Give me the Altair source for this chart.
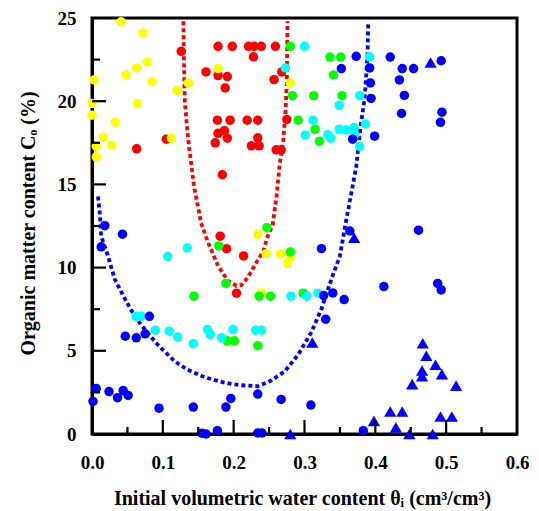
import altair as alt
import pandas as pd

# ---- data ----
red_x = [0.126, 0.178, 0.198, 0.221, 0.229, 0.239, 0.259, 0.228, 0.161, 0.178, 0.191, 0.188, 0.257, 0.268,
         0.177, 0.195, 0.219, 0.234, 0.275, 0.178, 0.187, 0.191, 0.174, 0.234, 0.225, 0.236, 0.260, 0.267,
         0.105, 0.063, 0.184, 0.181, 0.190, 0.214, 0.204]
red_y = [23.0, 23.3, 23.3, 23.3, 23.3, 23.3, 23.3, 22.67, 21.76, 21.54, 21.48, 20.8, 21.3, 21.76,
         18.86, 18.86, 18.86, 18.86, 18.9, 18.07, 18.23, 17.78, 17.5, 17.8, 17.32, 17.32, 17.08, 17.08,
         17.72, 17.14, 15.58, 11.89, 11.14, 10.7, 8.46]

yellow_x = [0.041, 0.072, 0.078, 0.063, 0.048, 0.085, 0.003, 0.120, 0.136, 0.178, 0.0, 0.0, 0.064, 0.033,
            0.016, 0.028, 0.006, 0.006, 0.112, 0.280, 0.234, 0.246, 0.266, 0.280, 0.276, 0.239]
yellow_y = [24.77, 24.1, 22.35, 22.0, 21.58, 21.17, 21.28, 20.65, 21.1, 21.96, 19.86, 19.16, 19.86, 18.73,
            17.84, 17.36, 17.3, 16.65, 17.78, 21.1, 12.0, 10.84, 10.82, 10.6, 10.26, 8.48]

green_x = [0.280, 0.336, 0.351, 0.341, 0.283, 0.313, 0.353, 0.291, 0.315, 0.321, 0.179, 0.189, 0.144,
           0.191, 0.201, 0.234, 0.247, 0.280, 0.236, 0.252, 0.298]
green_y = [23.3, 22.65, 22.65, 21.58, 20.33, 20.33, 20.33, 18.86, 18.31, 17.6, 11.3, 9.05, 8.28,
           5.6, 5.6, 5.31, 12.4, 10.94, 8.28, 8.28, 8.46]

cyan_x = [0.300, 0.273, 0.392, 0.378, 0.349, 0.312, 0.301, 0.333, 0.337, 0.349, 0.359, 0.370, 0.386,
          0.378, 0.371, 0.1345, 0.107, 0.0625, 0.0696, 0.0894, 0.109, 0.121, 0.143, 0.163, 0.167, 0.183,
          0.199, 0.281, 0.303, 0.319, 0.231, 0.239]
cyan_y = [23.3, 22.0, 22.67, 20.33, 19.76, 18.86, 17.97, 17.99, 17.78, 18.31, 18.27, 18.43, 18.63,
          17.28, 18.0, 11.18, 10.66, 7.07, 7.07, 6.24, 6.18, 5.83, 5.43, 6.28, 5.98, 5.79,
          6.28, 8.28, 8.28, 8.46, 6.24, 6.24]

blue_x = [0.421, 0.438, 0.454, 0.493, 0.434, 0.441, 0.437, 0.494, 0.492, 0.399, 0.373, 0.352, 0.392,
          0.393, 0.394, 0.368, 0.018, 0.043, 0.013, 0.081, 0.047, 0.0625, 0.075, 0.006, 0.024, 0.044,
          0.051, 0.036, 0.0014, 0.0946, 0.143, 0.189, 0.196, 0.155, 0.161, 0.177, 0.234, 0.267, 0.234,
          0.240, 0.324, 0.364, 0.327, 0.340, 0.356, 0.330, 0.383, 0.461, 0.412, 0.488, 0.493, 0.309]
blue_y = [22.65, 21.96, 21.96, 22.43, 21.28, 20.35, 19.26, 19.34, 18.73, 17.9, 22.7, 21.96, 22.0,
          21.1, 20.17, 17.72, 12.52, 12.01, 11.25, 7.07, 5.88, 5.78, 6.02, 2.73, 2.55, 2.61,
          2.32, 2.18, 1.96, 1.55, 1.62, 1.62, 2.14, 0.05, 0.0, 0.2, 2.4, 2.08, 0.06,
          0.06, 11.14, 12.2, 8.32, 8.48, 8.08, 6.9, 0.2, 12.25, 8.86, 9.05, 8.66, 1.74]

tri_x = [0.478, 0.370, 0.311, 0.280, 0.398, 0.467, 0.472, 0.485, 0.466, 0.466, 0.494, 0.452, 0.514,
         0.421, 0.438, 0.429, 0.492, 0.508, 0.448, 0.481]
tri_y = [22.33, 11.79, 5.5, 0.0, 0.79, 5.45, 4.7, 4.16, 3.82, 3.47, 3.6, 3.0, 2.91,
         1.35, 1.35, 0.4, 1.05, 1.05, 0.0, 0.0]

red_curve_x = [0.129, 0.130, 0.131, 0.134, 0.137, 0.144, 0.154, 0.164, 0.178, 0.192, 0.204, 0.211,
               0.220, 0.232, 0.242, 0.248, 0.255, 0.261, 0.265, 0.270, 0.273, 0.275, 0.276]
red_curve_y = [24.8, 22.0, 20.0, 18.5, 17.25, 14.9, 12.68, 11.49, 10.1, 9.2, 8.9, 8.95,
               9.41, 10.3, 11.0, 11.89, 12.55, 14.46, 16.25, 17.63, 19.22, 21.2, 24.8]

blue_curve_x = [0.0085, 0.011, 0.013, 0.0226, 0.032, 0.044, 0.0555, 0.0696, 0.093, 0.117, 0.135, 0.159,
                0.183, 0.197, 0.211, 0.234, 0.253, 0.272, 0.291, 0.310, 0.324, 0.338, 0.350, 0.357,
                0.366, 0.373, 0.379, 0.385, 0.389, 0.390]
blue_curve_y = [14.27, 13.28, 11.89, 10.7, 9.31, 8.32, 7.43, 6.54, 5.35, 4.36, 3.86, 3.41,
                3.13, 3.01, 2.93, 2.87, 3.21, 3.76, 4.76, 6.14, 7.53, 9.31, 10.7, 12.4,
                14.46, 16.05, 18.43, 20.21, 22.79, 24.77]

x_labels = [0.0, 0.1, 0.2, 0.3, 0.4, 0.5, 0.6]
y_labels = [0, 5, 10, 15, 20, 25]
x_major_ticks = [0.1, 0.2, 0.3, 0.4, 0.5]
x_minor_ticks = [0.05, 0.15, 0.25, 0.35, 0.45, 0.55]
y_major_ticks = [5, 10, 15, 20]
y_minor_ticks = [2.5, 7.5, 12.5, 17.5, 22.5]

# ---- build tables ----
series_order = ["red", "yellow", "green", "cyan", "blue"]
colors = {"red": "#ff0000", "yellow": "#ffff00", "green": "#00ff00", "cyan": "#00ffff", "blue": "#0000ff"}
frames = []
for name, xs_, ys_ in [("red", red_x, red_y), ("yellow", yellow_x, yellow_y), ("green", green_x, green_y),
                       ("cyan", cyan_x, cyan_y), ("blue", blue_x, blue_y)]:
    frames.append(pd.DataFrame({"x": xs_, "y": ys_, "s": name}))
circles = pd.concat(frames, ignore_index=True)
tris = pd.DataFrame({"x": tri_x, "y": tri_y})
rc = pd.DataFrame({"x": red_curve_x, "y": red_curve_y, "o": range(len(red_curve_x))})
bc = pd.DataFrame({"x": blue_curve_x, "y": blue_curve_y, "o": range(len(blue_curve_x))})

W, H = 425, 416
FONT = "Liberation Serif"
xs = alt.Scale(domain=[0, 0.6], nice=False, zero=False)
ys = alt.Scale(domain=[0, 25], nice=False, zero=False)

xaxis = alt.Axis(values=x_labels, format=".1f", title="Initial volumetric water content θᵢ (cm³/cm³)",
                 grid=False, ticks=False, tickSize=0, labelPadding=19, labelFlush=False, labelOverlap=False,
                 domainColor="black", domainWidth=3,
                 titleX=210, titleY=70, titleBaseline="alphabetic", titleAlign="center", titleAngle=0)
yaxis = alt.Axis(values=y_labels, format="d", title="Organic matter content Cₒ (%)",
                 grid=False, ticks=False, tickSize=0, labelPadding=16, labelFlush=False, labelOverlap=False,
                 domainColor="black", domainWidth=3,
                 titleX=-58, titleY=205, titleBaseline="alphabetic", titleAlign="center", titleAngle=-90)

red_line = alt.Chart(rc).mark_line(color="#ff0000", strokeWidth=3.8, strokeDash=[4, 3]).encode(
    x=alt.X("x:Q", scale=xs, axis=xaxis), y=alt.Y("y:Q", scale=ys, axis=yaxis), order="o:Q")
blue_line = alt.Chart(bc).mark_line(color="#0000ff", strokeWidth=3.8, strokeDash=[4, 3]).encode(
    x=alt.X("x:Q", scale=xs), y=alt.Y("y:Q", scale=ys), order="o:Q")

pts = alt.Chart(circles).mark_point(shape="circle", filled=True, size=90, opacity=1).encode(
    x=alt.X("x:Q", scale=xs), y=alt.Y("y:Q", scale=ys),
    color=alt.Color("s:N", scale=alt.Scale(domain=series_order, range=[colors[s] for s in series_order]),
                    legend=None))
tri = alt.Chart(tris).mark_point(shape="triangle-up", filled=True, size=150, opacity=1, color="#0000ff").encode(
    x=alt.X("x:Q", scale=xs), y=alt.Y("y:Q", scale=ys))

def xticks(vals, length):
    return alt.Chart(pd.DataFrame({"x": vals})).mark_rule(color="black", strokeWidth=2.2).encode(
        x=alt.X("x:Q", scale=xs), y=alt.value(H), y2=alt.value(H - length))

def yticks(vals, length):
    return alt.Chart(pd.DataFrame({"y": vals})).mark_rule(color="black", strokeWidth=2.2).encode(
        y=alt.Y("y:Q", scale=ys), x=alt.value(0), x2=alt.value(length))

chart = alt.layer(
    red_line, blue_line, pts, tri,
    xticks(x_major_ticks, 14), xticks(x_minor_ticks, 7),
    yticks(y_major_ticks, 14), yticks(y_minor_ticks, 8),
).properties(
    width=W, height=H,
    autosize=alt.AutoSizeParams(type="none"),
    padding={"left": 84, "top": 10, "right": 12, "bottom": 76},
).configure_view(stroke="black", strokeWidth=3).configure_axis(
    labelFont=FONT, labelFontSize=19, labelFontWeight="bold", labelColor="black",
    titleFont=FONT, titleFontSize=20, titleFontWeight="bold", titleColor="black",
)

chart.save("out.html", embed_options={"renderer": "svg", "actions": False})
